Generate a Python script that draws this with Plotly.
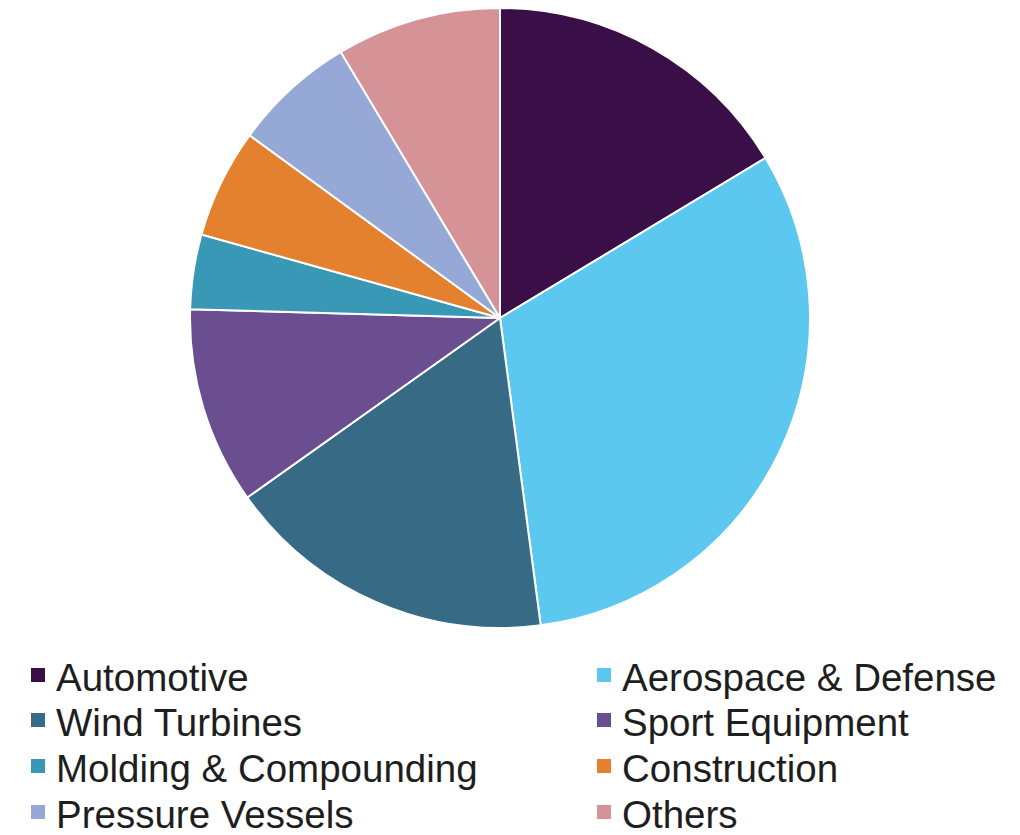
import plotly.graph_objects as go

categories = ["Automotive", "Aerospace & Defense", "Wind Turbines", "Sport Equipment",
              "Molding & Compounding", "Construction", "Pressure Vessels", "Others"]
shares = [16.4, 31.6, 17.3, 10.3, 3.9, 5.7, 6.4, 8.6]
colors = ["#3A0F48", "#5CC8F0", "#376A84", "#6B4E8F", "#3898B5", "#E3812F", "#95A8D6", "#D59397"]

W, H = 1020, 835
cx, cy, r = 500, 318, 310

fig = go.Figure(go.Pie(
    labels=categories,
    values=shares,
    sort=False,
    direction="clockwise",
    rotation=0,
    marker=dict(colors=colors, line=dict(color="white", width=2)),
    textinfo="none",
    hoverinfo="label+percent",
    domain=dict(x=[(cx - r) / W, (cx + r) / W], y=[(H - cy - r) / H, (H - cy + r) / H]),
    showlegend=False,
))

# Two-column legend drawn below the pie (row-major order, like the original)
col_sq_x = [31, 597]      # left edge of legend squares (px)
col_tx_x = [54, 620]      # left edge of labels (px)
row_y = [675, 720, 766, 812]  # vertical centre of each row (px)
sq = 14

shapes, annotations = [], []
for i, (cat, col) in enumerate(zip(categories, colors)):
    c, rw = i % 2, i // 2
    yc = row_y[rw]
    shapes.append(dict(
        type="rect", xref="paper", yref="paper",
        x0=col_sq_x[c] / W, x1=(col_sq_x[c] + sq) / W,
        y0=(H - yc - sq / 2) / H, y1=(H - yc + sq / 2) / H,
        fillcolor=col, line=dict(width=0),
    ))
    annotations.append(dict(
        text=cat, xref="paper", yref="paper",
        x=col_tx_x[c] / W, y=(H - yc - 2) / H,
        xanchor="left", yanchor="middle", showarrow=False,
        font=dict(family="Liberation Sans, Arial, sans-serif", size=38.5, color="#1E1E1E"),
    ))

fig.update_layout(
    width=W, height=H,
    margin=dict(l=0, r=0, t=0, b=0),
    paper_bgcolor="white",
    showlegend=False,
    shapes=shapes,
    annotations=annotations,
)

fig.write_html("out.html")
